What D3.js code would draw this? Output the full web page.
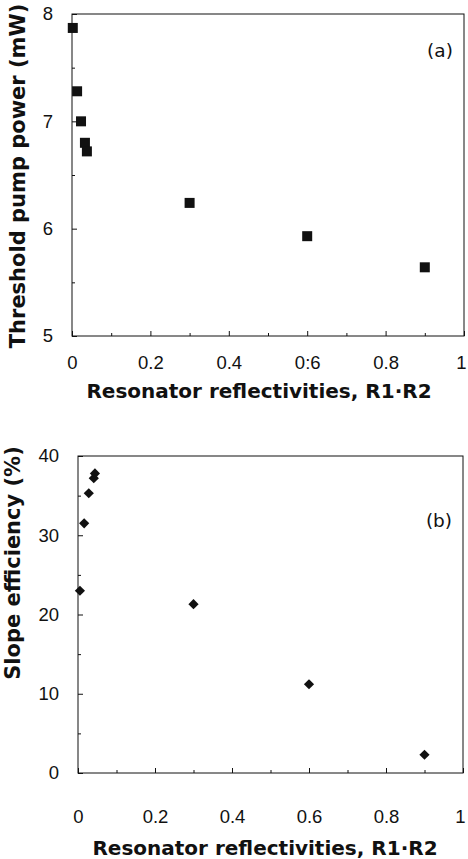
<!DOCTYPE html>
<html>
<head>
<meta charset="utf-8">
<script src="https://cdn.jsdelivr.net/npm/d3@7"></script>
<style>
  html, body { margin: 0; padding: 0; background: #fff; }
  svg { display: block; font-family: "DejaVu Sans", "Liberation Sans", Arial, sans-serif; }
</style>
</head>
<body>
<div id="chart"></div>
<script>
// ── data ───────────────────────────────────────────────────────────────
const reflA     = [0.002, 0.013, 0.023, 0.033, 0.038, 0.3, 0.6, 0.9];
const threshold = [7.87, 7.28, 7.0, 6.8, 6.72, 6.24, 5.93, 5.64];

const reflB     = [0.005, 0.016, 0.028, 0.041, 0.044, 0.3, 0.6, 0.9];
const slopeEff  = [23.0, 31.5, 35.3, 37.2, 37.8, 21.3, 11.2, 2.3];

const xTicks    = [0, 0.2, 0.4, 0.6, 0.8, 1];
const xLabelsA  = ["0", "0.2", "0.4", "0:6", "0.8", "1"];   // scan artefact in (a)
const yTicksA   = [5, 6, 7, 8];
const yTicksB   = [0, 10, 20, 30, 40];

const W = 468, H = 859;
const ink = "#111";

const svg = d3.select("#chart").append("svg")
  .attr("width", W)
  .attr("height", H);

function panel(cfg) {
  const x = d3.scaleLinear().domain([0, 1]).range([cfg.left, cfg.right]);
  const y = d3.scaleLinear().domain(cfg.yDomain).range([cfg.bottom, cfg.top]);
  const g = svg.append("g");

  // frame
  g.append("rect")
    .attr("x", cfg.left).attr("y", cfg.top)
    .attr("width", cfg.right - cfg.left)
    .attr("height", cfg.bottom - cfg.top)
    .attr("fill", "none")
    .attr("stroke", ink)
    .attr("stroke-width", 1);

  // x axis (ticks point inward)
  g.append("g")
    .attr("class", "x-axis")
    .attr("transform", `translate(0,${cfg.bottom})`)
    .call(d3.axisBottom(x).tickValues(xTicks)
      .tickFormat((d, i) => cfg.xLabels[i])
      .tickSizeInner(-5).tickSizeOuter(0).tickPadding(cfg.xPad));
  g.append("g")
    .attr("transform", `translate(0,${cfg.bottom})`)
    .call(d3.axisBottom(x).tickValues(d3.range(0.1, 1, 0.2))
      .tickFormat("").tickSizeInner(-3).tickSizeOuter(0));

  // y axis
  g.append("g")
    .attr("transform", `translate(${cfg.left},0)`)
    .call(d3.axisLeft(y).tickValues(cfg.yTicks)
      .tickFormat(d3.format("d"))
      .tickSizeInner(-5).tickSizeOuter(0).tickPadding(cfg.yPad));
  g.append("g")
    .attr("transform", `translate(${cfg.left},0)`)
    .call(d3.axisLeft(y).tickValues(cfg.yMinor)
      .tickFormat("").tickSizeInner(-3).tickSizeOuter(0));

  g.selectAll(".domain").remove();
  g.selectAll(".tick line").attr("stroke", ink);
  g.selectAll(".tick text")
    .attr("font-size", 18.5)
    .attr("fill", ink);
  // keep the "1" inside the page
  g.selectAll(".x-axis .tick:last-of-type text").attr("dx", -3);

  // axis titles
  g.append("text")
    .attr("x", cfg.xTitleX)
    .attr("y", cfg.bottom + cfg.xTitleDy)
    .attr("text-anchor", "middle")
    .attr("font-size", 20)
    .attr("font-weight", "bold")
    .attr("fill", ink)
    .text("Resonator reflectivities, R1\u00b7R2");

  g.append("text")
    .attr("transform", `translate(${cfg.yTitleX},${cfg.yTitleY}) rotate(-90)`)
    .attr("text-anchor", "middle")
    .attr("font-size", 21)
    .attr("font-weight", "bold")
    .attr("fill", ink)
    .text(cfg.yTitle);

  // panel tag
  g.append("text")
    .attr("x", cfg.right - 24)
    .attr("y", cfg.top + cfg.tagDy)
    .attr("text-anchor", "middle")
    .attr("font-size", 18.5)
    .attr("fill", ink)
    .text(cfg.tag);

  return { g, x, y };
}

// ── (a) threshold pump power ───────────────────────────────────────────
const pa = panel({
  left: 72, right: 464, top: 14, bottom: 336,
  yDomain: [5, 8], yTicks: yTicksA, yMinor: [5.5, 6.5, 7.5],
  xLabels: xLabelsA, xPad: 20, xTitleX: 259, xTitleDy: 62, yPad: 19,
  yTitleX: 25, yTitleY: 176,
  yTitle: "Threshold pump power (mW)", tag: "(a)", tagDy: 43
});

pa.g.selectAll("rect.point")
  .data(reflA.map((r, i) => ({ r, v: threshold[i] })))
  .join("rect")
  .attr("class", "point")
  .attr("x", d => pa.x(d.r) - 5)
  .attr("y", d => pa.y(d.v) - 5)
  .attr("width", 10)
  .attr("height", 10)
  .attr("fill", ink);

// ── (b) slope efficiency ───────────────────────────────────────────────
const pb = panel({
  left: 78, right: 463, top: 456, bottom: 773,
  yDomain: [0, 40], yTicks: yTicksB, yMinor: [5, 15, 25, 35],
  xLabels: xTicks.map(String), xPad: 37, xTitleX: 265, xTitleDy: 82, yPad: 19,
  yTitleX: 20, yTitleY: 563,
  yTitle: "Slope efficiency (%)", tag: "(b)", tagDy: 71
});

pb.g.selectAll("path.point")
  .data(reflB.map((r, i) => ({ r, v: slopeEff[i] })))
  .join("path")
  .attr("class", "point")
  .attr("transform", d => `translate(${pb.x(d.r)},${pb.y(d.v)}) rotate(45)`)
  .attr("d", d3.symbol().type(d3.symbolSquare).size(52))
  .attr("fill", ink);
</script>
</body>
</html>
